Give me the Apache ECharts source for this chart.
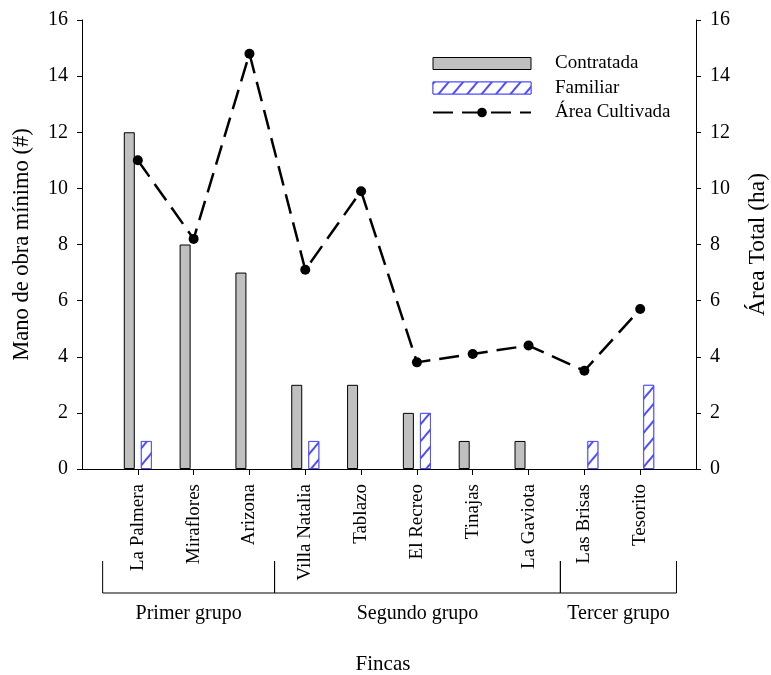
<!DOCTYPE html>
<html>
<head>
<meta charset="utf-8">
<script src="https://cdn.jsdelivr.net/npm/echarts@6/dist/echarts.min.js"></script>
<style>
  html, body { margin: 0; padding: 0; background: #fff; }
  #chart { width: 771px; height: 675px; }
</style>
</head>
<body>
<div id="chart"></div>
<script>
// Farms on the x axis, in plotting order
const fincas = ['La Palmera', 'Miraflores', 'Arizona', 'Villa Natalia', 'Tablazo',
                'El Recreo', 'Tinajas', 'La Gaviota', 'Las Brisas', 'Tesorito'];
// Minimum labour (#), hired and family
const contratada = [12, 8, 7, 3, 3, 2, 1, 1, 0, 0];
const familiar   = [1, 0, 0, 1, 0, 2, 0, 0, 1, 3];
// Cultivated area (ha), right axis
const areaCultivada = [11.0, 8.2, 14.8, 7.1, 9.9, 3.8, 4.1, 4.4, 3.5, 5.7];
// Farm groups and the bracket edges that enclose them, in category units
const grupos = ['Primer grupo', 'Segundo grupo', 'Tercer grupo'];
const grupoBordes = [0.37, 3.45, 8.57, 10.65];
// Axis range shared by both value axes
const yMin = 0, yMax = 16, yStep = 2;

const FONT = '"Liberation Serif", "Times New Roman", serif';
const GRID = { left: 82, right: 75, top: 20, bottom: 206 };
const W = 771, H = 675;

// one empty slot on each side so farms sit at positions 1..n
const cats = [''].concat(fincas, ['']);
const pad = arr => [null].concat(arr.map(v => (v === 0 ? null : v)), [null]);
const isFarm = i => i > 0 && i <= fincas.length;

// group brackets below the axis labels
const plotW = W - GRID.left - GRID.right;
const toX = v => GRID.left + v / (fincas.length + 1) * plotW;
const bracketTop = 561, bracketBottom = 593;
const graphics = [];
for (let g = 0; g < grupos.length; g++) {
  const x0 = toX(grupoBordes[g]), x1 = toX(grupoBordes[g + 1]);
  graphics.push({
    type: 'polyline', silent: true,
    shape: { points: [[x0, bracketTop], [x0, bracketBottom], [x1, bracketBottom], [x1, bracketTop]] },
    style: { stroke: '#000', lineWidth: 1, fill: null }
  });
  graphics.push({
    type: 'text', silent: true,
    x: (x0 + x1) / 2, y: 614,
    style: { text: grupos[g], font: '20px ' + FONT, fill: '#000', align: 'center', verticalAlign: 'middle' }
  });
}

const valueAxis = (pos, name, nameGap, nameSize) => ({
  type: 'value', position: pos, min: yMin, max: yMax, interval: yStep,
  name: name, nameLocation: 'middle', nameGap: nameGap, nameRotate: 90,
  nameTextStyle: { fontFamily: FONT, fontSize: nameSize, color: '#000' },
  axisLine: { show: true, lineStyle: { color: '#000', width: 1 } },
  axisTick: { show: true, inside: false, length: 5, lineStyle: { color: '#000' } },
  axisLabel: { fontFamily: FONT, fontSize: 20, color: '#000', margin: 14 },
  splitLine: { show: false }
});

const chart = echarts.init(document.getElementById('chart'), null, { renderer: 'canvas' });
chart.setOption({
  backgroundColor: '#fff',
  animation: false,
  grid: Object.assign({ containLabel: false, outerBoundsMode: 'none' }, GRID),
  legend: {
    orient: 'vertical', left: 432, top: 54, padding: 0,
    itemWidth: 98, itemHeight: 12, itemGap: 5.5,
    itemStyle: { borderWidth: 1 },
    data: [
      { name: 'Contratada', icon: 'rect' },
      { name: 'Familiar', icon: 'rect' },
      { name: 'Área Cultivada' }
    ],
    textStyle: { fontFamily: FONT, fontSize: 19, color: '#000', padding: [0, 0, 0, 19] }
  },
  xAxis: {
    type: 'category', data: cats, boundaryGap: false,
    name: 'Fincas', nameLocation: 'middle', nameGap: 185,
    nameTextStyle: { fontFamily: FONT, fontSize: 21, color: '#000', padding: [0, 12, 0, 0] },
    axisLine: { lineStyle: { color: '#000', width: 1 } },
    axisTick: { show: true, length: 6, interval: isFarm, lineStyle: { color: '#000' } },
    axisLabel: { rotate: 90, interval: isFarm, margin: 15, fontFamily: FONT, fontSize: 19, color: '#000' },
    splitLine: { show: false }
  },
  yAxis: [
    valueAxis('left', 'Mano de obra mínimo (#)', 48, 22.5),
    valueAxis('right', 'Área Total (ha)', 50, 23.5)
  ],
  series: [
    {
      name: 'Contratada', type: 'bar', yAxisIndex: 0,
      barWidth: 11, barGap: '55%',
      data: pad(contratada),
      itemStyle: { color: '#c0c0c0', borderColor: '#000', borderWidth: 1 }
    },
    {
      name: 'Familiar', type: 'bar', yAxisIndex: 0,
      barWidth: 11,
      data: pad(familiar),
      itemStyle: {
        color: '#fff', borderColor: '#4d4dff', borderWidth: 1,
        decal: {
          symbol: 'rect', symbolSize: 1, color: '#4d4dff', backgroundColor: '#fff',
          dashArrayX: [1, 0], dashArrayY: [1.2, 9], rotation: -0.87
        }
      }
    },
    {
      name: 'Área Cultivada', type: 'line', yAxisIndex: 1,
      data: pad(areaCultivada), connectNulls: false,
      symbol: 'circle', symbolSize: 10,
      itemStyle: { color: '#000' },
      lineStyle: { color: '#000', width: 2.5, type: [20, 9] }
    }
  ],
  graphic: graphics
});
</script>
</body>
</html>
